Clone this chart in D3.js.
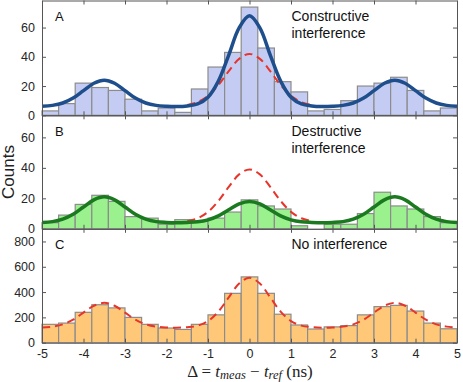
<!DOCTYPE html>
<html>
<head>
<meta charset="utf-8">
<script src="https://cdn.jsdelivr.net/npm/d3@7"></script>
<style>
  html, body { margin: 0; padding: 0; background: #fff; }
  svg { display: block; font-family: "Liberation Sans", Arial, sans-serif; }
  .tick text { font-size: 12.5px; fill: #262626; }
</style>
</head>
<body>
<div id="chart"></div>
<script>
// histogram bin edges (ns), 0.4 ns bins
const binEdges = [-5, -4.6, -4.2, -3.8, -3.4, -3, -2.6, -2.2, -1.8, -1.4, -1, -0.6, -0.2,
  0.2, 0.6, 1, 1.4, 1.8, 2.2, 2.6, 3, 3.4, 3.8, 4.2, 4.6, 5];

const countsA = [3, 8, 22, 19, 17, 11, 3, 5, 2, 18, 33, 43, 74, 46, 23, 16, 3, 4, 10, 20, 22, 26, 17, 3, 5];
const countsB = [4, 9, 16, 22, 18, 8, 7, 3, 6, 5, 7, 11, 19, 15, 13, 2, 0, 3, 3, 10, 24, 15, 13, 8, 4];
const countsC = [145, 155, 240, 300, 275, 200, 145, 116, 105, 145, 220, 390, 520, 390, 225, 140, 108, 125, 135, 220, 285, 295, 250, 155, 110];

// fitted curves
const curveX = [-5, -4.75, -4.5, -4.25, -4, -3.75, -3.5, -3.25, -3, -2.75, -2.5, -2.25, -2, -1.75, -1.5, -1.25, -1, -0.75, -0.5, -0.25,
  0, 0.25, 0.5, 0.75, 1, 1.25, 1.5, 1.75, 2, 2.25, 2.5, 2.75, 3, 3.25, 3.5, 3.75, 4, 4.25, 4.5, 4.75, 5];
const fitA = [6.2, 6.8, 8.4, 11.8, 16.9, 21.9, 24, 21.9, 16.9, 11.8, 8.4, 6.8, 6.2, 6.0, 6.4, 7.8, 12.4, 23.4, 41.2, 59.8,
  68, 59.8, 41.2, 23.4, 12.4, 7.8, 6.4, 6.0, 6.2, 6.8, 8.4, 11.8, 16.9, 21.9, 24, 21.9, 16.9, 11.8, 8.4, 6.8, 6.2];
const fitB = [4.2, 4.7, 6.3, 9.5, 14.3, 19.0, 21, 19.0, 14.3, 9.5, 6.3, 4.7, 4.2, 4.0, 4.2, 4.6, 5.9, 8.5, 12.5, 16.4,
  18, 16.4, 12.5, 8.5, 5.9, 4.6, 4.2, 4.0, 4.2, 4.7, 6.3, 9.5, 14.3, 19.0, 21, 19.0, 14.3, 9.5, 6.3, 4.7, 4.2];
const fitC = [120, 127, 145, 182, 238, 292, 315, 292, 238, 182, 145, 127, 120, 118, 123, 135, 171, 246, 358, 467,
  513, 467, 358, 246, 171, 135, 123, 118, 120, 127, 145, 182, 238, 292, 315, 292, 238, 182, 145, 127, 120];

// expected (no interference) centre peak, dashed red
const refX = [-1.5, -1.25, -1, -0.75, -0.5, -0.25, 0, 0.25, 0.5, 0.75, 1, 1.25, 1.5];
const refA = [7.0, 9.0, 13.3, 20.7, 30.2, 38.6, 42, 38.6, 30.2, 20.7, 13.3, 9.0, 7.0];
const refB = [5.0, 6.9, 11.1, 18.3, 27.5, 35.7, 39, 35.7, 27.5, 18.3, 11.1, 6.9, 5.0];

const xTicks = [-5, -4, -3, -2, -1, 0, 1, 2, 3, 4, 5];
const yTicksAB = [0, 20, 40, 60];
const yTicksC = [0, 200, 400, 600, 800];

const width = 463, height = 382;
const left = 42, right = 457;

const svg = d3.select('#chart').append('svg')
  .attr('width', width)
  .attr('height', height);

const x = d3.scaleLinear().domain([-5, 5]).range([left, right]);

const panels = [
  { letter: 'A', top: 0.5, bottom: 115.3, ymax: 78.5, ticks: yTicksAB, counts: countsA,
    fill: '#c4ccf3', fit: fitA, fitColor: '#1f4e8c', fitDash: null, ref: refA,
    note: ['Constructive', 'interference'] },
  { letter: 'B', top: 115.3, bottom: 228.8, ymax: 74.5, ticks: yTicksAB, counts: countsB,
    fill: '#9af18e', fit: fitB, fitColor: '#1b7a1f', fitDash: null, ref: refB,
    note: ['Destructive', 'interference'] },
  { letter: 'C', top: 228.8, bottom: 342.7, ymax: 900, ticks: yTicksC, counts: countsC,
    fill: '#ffc878', fit: fitC, fitColor: '#e8352b', fitDash: '8,5', ref: null,
    note: ['No interference'] }
];

panels.forEach((p, pi) => {
  const y = d3.scaleLinear().domain([0, p.ymax]).range([p.bottom, p.top]);
  const g = svg.append('g');

  // bars
  g.selectAll('rect')
    .data(p.counts)
    .join('rect')
    .attr('x', (d, i) => x(binEdges[i]))
    .attr('width', (d, i) => x(binEdges[i + 1]) - x(binEdges[i]))
    .attr('y', (d) => y(d))
    .attr('height', (d) => y(0) - y(d))
    .attr('fill', p.fill)
    .attr('stroke', '#8c8c8c')
    .attr('stroke-width', 1.2);

  const line = d3.line()
    .x((d) => x(d[0]))
    .y((d) => y(d[1]))
    .curve(d3.curveCatmullRom);

  // dashed reference under the fit
  if (p.ref) {
    g.append('path')
      .datum(refX.map((v, i) => [v, p.ref[i]]))
      .attr('d', line)
      .attr('fill', 'none')
      .attr('stroke', '#e8352b')
      .attr('stroke-width', 2)
      .attr('stroke-dasharray', '8,5');
  }

  g.append('path')
    .datum(curveX.map((v, i) => [v, p.fit[i]]))
    .attr('d', line)
    .attr('fill', 'none')
    .attr('stroke', p.fitColor)
    .attr('stroke-width', p.fitDash ? 2 : 3.5)
    .attr('stroke-dasharray', p.fitDash);

  // frame with inward ticks
  const axL = g.append('g')
    .attr('transform', `translate(${left},0)`)
    .call(d3.axisLeft(y).tickValues(p.ticks).tickSizeInner(-4).tickSizeOuter(0).tickPadding(7));
  const axR = g.append('g')
    .attr('transform', `translate(${right},0)`)
    .call(d3.axisRight(y).tickValues(p.ticks).tickSizeInner(-4).tickSizeOuter(0).tickFormat(() => ''));
  const axB = g.append('g')
    .attr('transform', `translate(0,${p.bottom})`)
    .call(d3.axisBottom(x).tickValues(xTicks).tickSizeInner(-4).tickSizeOuter(0).tickPadding(6)
      .tickFormat((d) => pi === 2 ? (d < 0 ? '-' + Math.abs(d) : String(d)) : ''));
  const axT = g.append('g')
    .attr('transform', `translate(0,${p.top})`)
    .call(d3.axisTop(x).tickValues(xTicks).tickSizeInner(-4).tickSizeOuter(0).tickFormat(() => ''));

  [axL, axR, axB, axT].forEach((a) => {
    a.select('.domain').attr('stroke', '#555').attr('stroke-width', 1);
    a.selectAll('.tick line').attr('stroke', '#555');
  });
  axL.selectAll('.tick text').attr('font-family', '"Liberation Sans", Arial, sans-serif');
  axB.selectAll('.tick text').attr('font-family', '"Liberation Sans", Arial, sans-serif');

  // panel letter and note
  g.append('text')
    .attr('x', 55)
    .attr('y', p.top + 20.5)
    .attr('font-size', 13)
    .attr('fill', '#111')
    .text(p.letter);

  p.note.forEach((t, i) => {
    g.append('text')
      .attr('x', 291.5)
      .attr('y', p.top + 20.5 + i * 17)
      .attr('font-size', 14)
      .attr('fill', '#111')
      .text(t);
  });
});

// axis titles
svg.append('text')
  .attr('transform', 'translate(14,172) rotate(-90)')
  .attr('text-anchor', 'middle')
  .attr('font-size', 17)
  .attr('fill', '#222')
  .text('Counts');

const xl = svg.append('text')
  .attr('x', 250)
  .attr('y', 376.5)
  .attr('text-anchor', 'middle')
  .attr('font-family', '"Liberation Serif", "DejaVu Serif", serif')
  .attr('font-size', 17)
  .attr('fill', '#222');
xl.append('tspan').text('Δ = ');
xl.append('tspan').attr('font-style', 'italic').text('t');
xl.append('tspan').attr('font-style', 'italic').attr('font-size', 12.5).attr('dy', 2).text('meas');
xl.append('tspan').attr('dy', -2).text(' − ');
xl.append('tspan').attr('font-style', 'italic').text('t');
xl.append('tspan').attr('font-style', 'italic').attr('font-size', 12.5).attr('dy', 2).text('ref');
xl.append('tspan').attr('dy', -2).text(' (ns)');
</script>
</body>
</html>
